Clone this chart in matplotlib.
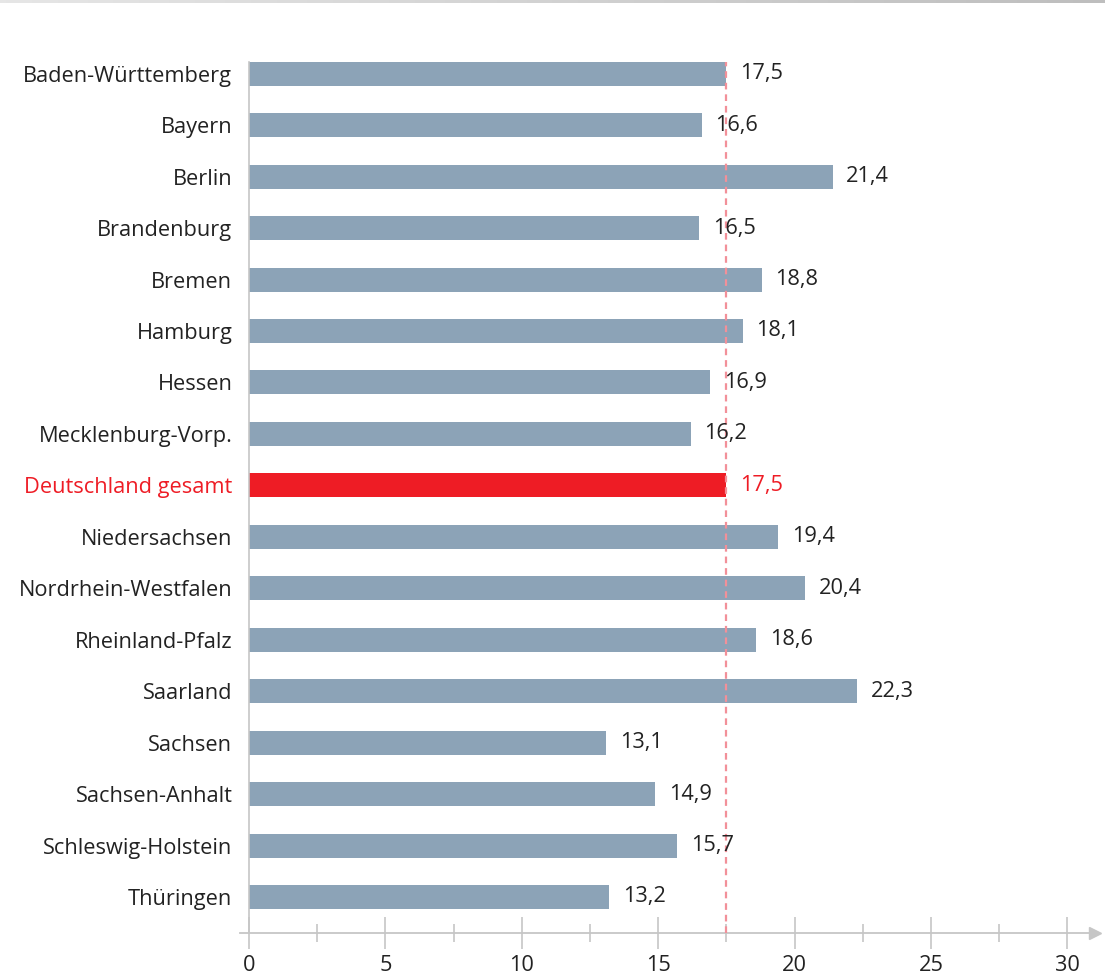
import numpy as np
import matplotlib
matplotlib.use("Agg")
import matplotlib.pyplot as plt
from matplotlib.ticker import MultipleLocator
from matplotlib.colors import LinearSegmentedColormap
import matplotlib.transforms as mtransforms

plt.rcParams['font.family'] = ['Open Sans', 'DejaVu Sans']

states = ["Baden-Württemberg", "Bayern", "Berlin", "Brandenburg", "Bremen", "Hamburg",
          "Hessen", "Mecklenburg-Vorp.", "Deutschland gesamt", "Niedersachsen",
          "Nordrhein-Westfalen", "Rheinland-Pfalz", "Saarland", "Sachsen",
          "Sachsen-Anhalt", "Schleswig-Holstein", "Thüringen"]
values = [17.5, 16.6, 21.4, 16.5, 18.8, 18.1, 16.9, 16.2, 17.5, 19.4, 20.4, 18.6,
          22.3, 13.1, 14.9, 15.7, 13.2]
highlight = "Deutschland gesamt"
reference_value = 17.5
xticks = [0, 5, 10, 15, 20, 25, 30]

GREY = "#8CA3B7"
RED = "#EE1C25"
DASH = "#F29099"
TXT = "#222222"
AXC = "#C6C6C6"
FS = 15.7

W, H = 1105, 974
fig = plt.figure(figsize=(W / 100, H / 100), dpi=100)

# top gradient strip
gax = fig.add_axes([0, 1 - 3 / H, 1, 3 / H])
grad = np.linspace(0, 1, 256).reshape(1, -1)
cm = LinearSegmentedColormap.from_list("g", ["#E6E6E6", "#BEBEBE"])
gax.imshow(grad, aspect="auto", cmap=cm)
gax.axis("off")

left_px, right_px = 249, 1100
top_px, bot_px = 61.7, 933
ax = fig.add_axes([left_px / W, (H - bot_px) / H, (right_px - left_px) / W, (bot_px - top_px) / H])

y = np.arange(len(states))
colors = [RED if s == highlight else GREY for s in states]
ax.barh(y, values, height=0.466, color=colors, zorder=2)

xmax = 31.2
ax.set_xlim(0, xmax)
ax.set_ylim(16.70, -0.233)

# reference dashed line
ax.axvline(reference_value, color=DASH, lw=1.6, ls=(0, (3, 2.2)), zorder=3, clip_on=False)

for yi, v, s in zip(y, values, states):
    ax.text(v + 0.5, yi, f"{v:.1f}".replace(".", ","), va="center", ha="left",
            fontsize=FS, color=RED if s == highlight else TXT, zorder=4)

ax.set_yticks(y)
ax.set_yticklabels(states, fontsize=FS)
shift = mtransforms.ScaledTranslation(0, 4 / 100, fig.dpi_scale_trans)
for lbl, s in zip(ax.get_yticklabels(), states):
    lbl.set_color(RED if s == highlight else TXT)
    lbl.set_transform(lbl.get_transform() + shift)
ax.tick_params(axis="y", length=0, pad=12)

for sp in ["top", "right", "bottom"]:
    ax.spines[sp].set_visible(False)
ax.spines["left"].set_color(AXC)
ax.spines["left"].set_linewidth(1.2)

# x axis line with arrow
ax.plot([-0.33, xmax - 0.2], [16.70, 16.70], color=AXC, lw=1.3, clip_on=False, zorder=1)
ax.plot([xmax - 0.2], [16.70], marker=">", color=AXC, markersize=9, clip_on=False, zorder=1)

ax.set_xticks(xticks)
ax.set_xticklabels([str(t) for t in xticks], fontsize=FS, color=TXT)
ax.xaxis.set_minor_locator(MultipleLocator(2.5))
ax.tick_params(axis="x", which="major", direction="inout", length=23, width=1.2, color=AXC, pad=4)
ax.tick_params(axis="x", which="minor", direction="inout", length=13, width=1.2, color=AXC)

fig.savefig("out.png", dpi=100, facecolor="white")
